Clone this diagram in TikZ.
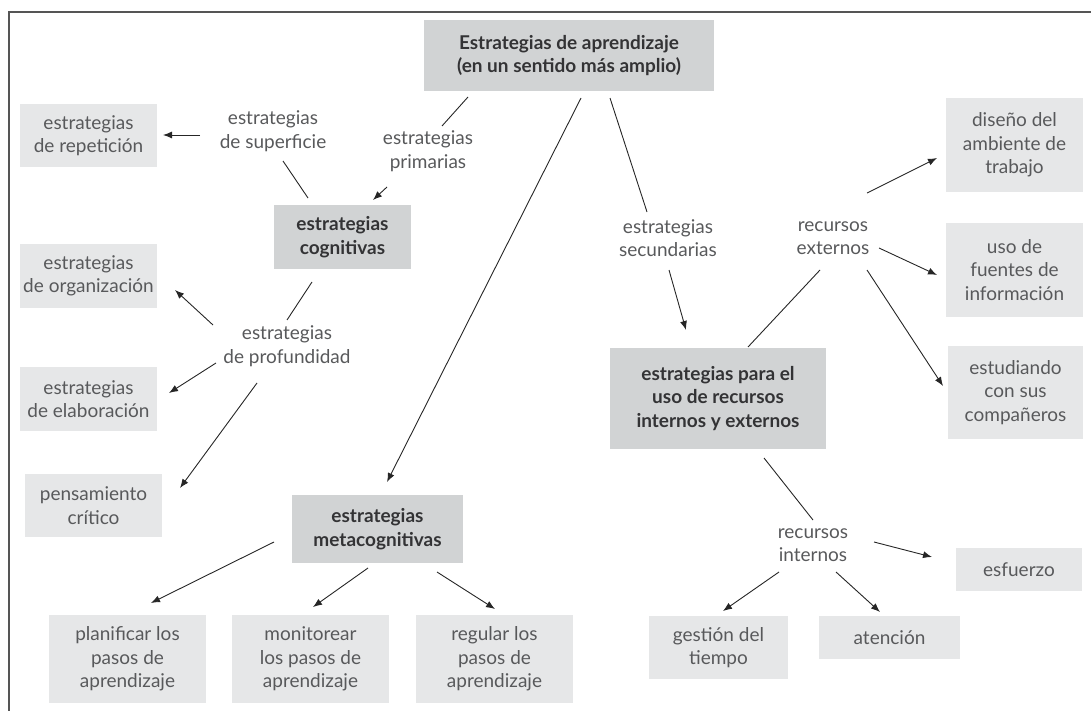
\documentclass[tikz,border=0pt]{standalone}
\usepackage{fontspec}
\setmainfont{Lato}
\usetikzlibrary{arrows.meta}
\definecolor{boxlight}{HTML}{E6E7E8}
\definecolor{boxdark}{HTML}{D1D3D4}
\definecolor{txtgray}{HTML}{58595B}
\definecolor{txtdark}{HTML}{333335}
\definecolor{frame}{HTML}{555555}

\begin{document}
\begin{tikzpicture}[x=1pt,y=-1pt]
\useasboundingbox (0,0) rectangle (1091,711);
\tikzset{
  hoja/.style={
           fill=boxlight,
           text=txtgray,
           inner sep=0pt,
           align=center,
           font=\fontsize{19}{23.5}\selectfont,
           },
  tema/.style={
           hoja,
           fill=boxdark,
           text=txtdark,
           font=\fontsize{19}{23.5}\selectfont\bfseries,
           },
  rotulo/.style={
           text=txtgray,
           inner sep=0pt,
           align=center,
           font=\fontsize{19}{23.5}\selectfont,
           },
  linea/.style={line width=0.9pt, draw=black!85},
  flecha/.style={linea, -{Latex[length=9pt,width=7pt]}},
}
% marco
\draw[frame, line width=1.3pt] (1091,12) -- (9,12) -- (9,711);
%==========================================
% cajas
\node[tema, minimum width=290, minimum height=71] (top) at (569,55.5)
  {Estrategias de aprendizaje\\(en un sentido más amplio)};
\node[tema, minimum width=137, minimum height=64] (cog) at (342.5,237) {estrategias\\cognitivas};
\node[tema, minimum width=171, minimum height=68] (meta) at (377.5,529) {estrategias\\metacognitivas};
\node[tema, minimum width=216, minimum height=101] (rec) at (718,398.5)
  {estrategias para el\\uso de recursos\\internos y externos};
\node[hoja, minimum width=137, minimum height=63] (rep) at (88.5,135.5) {estrategias\\de repetición};
\node[hoja, minimum width=137, minimum height=64] (org) at (88.5,276) {estrategias\\de organización};
\node[hoja, minimum width=137, minimum height=64] (ela) at (88.5,399) {estrategias\\de elaboración};
\node[hoja, minimum width=137, minimum height=63] (pen) at (93.5,505.5) {pensamiento\\crítico};
\node[hoja, minimum width=157, minimum height=88] (pla) at (127.5,659) {planificar los\\pasos de\\aprendizaje};
\node[hoja, minimum width=157, minimum height=88] (mon) at (310.5,659) {monitorear\\los pasos de\\aprendizaje};
\node[hoja, minimum width=157, minimum height=88] (reg) at (494.5,659) {regular los\\pasos de\\aprendizaje};
\node[hoja, minimum width=137, minimum height=94] (dis) at (1014.5,145) {diseño del\\ambiente de\\trabajo};
\node[hoja, minimum width=137, minimum height=94] (fue) at (1014.5,270) {uso de\\fuentes de\\información};
\node[hoja, minimum width=135, minimum height=93] (est) at (1015.5,392.5) {estudiando\\con sus\\compañeros};
\node[hoja, minimum width=126, minimum height=43] (esf) at (1019,569.5) {esfuerzo};
\node[hoja, minimum width=139, minimum height=63] (ges) at (718.5,647.5) {gestión del\\tiempo};
\node[hoja, minimum width=141, minimum height=43] (ate) at (889.5,637.5) {atención};
% rotulos
\node[rotulo] (sup) at (273,131) {estrategias\\de superficie};
\node[rotulo] (pri) at (428,151) {estrategias\\primarias};
\node[rotulo] (pro) at (287,346) {estrategias\\de profundidad};
\node[rotulo] (sec) at (668,238) {estrategias\\secundarias};
\node[rotulo] (ext) at (833,238) {recursos\\externos};
\node[rotulo] (int) at (813,545) {recursos\\internos};
%==========================================
% puntos de las lineas
\coordinate (top-pri) at (468,97);   \coordinate (pri-top) at (442,126);
\coordinate (pri-cog) at (387,187);  \coordinate (cog-pri) at (373,200);
\coordinate (sup-rep) at (200,135);  \coordinate (rep-sup) at (163,135);
\coordinate (sup-cog) at (283,161);  \coordinate (cog-sup) at (308,198);
\coordinate (cog-pro) at (312,282);  \coordinate (pro-cog) at (287,320);
\coordinate (pro-org) at (213,325);  \coordinate (org-pro) at (175,290);
\coordinate (pro-ela) at (216,363);  \coordinate (ela-pro) at (169,393);
\coordinate (pro-pen) at (257,383);  \coordinate (pen-pro) at (180,488);
\coordinate (top-meta) at (581,98);  \coordinate (meta-top) at (387,482);
\coordinate (top-sec) at (610,98);   \coordinate (sec-top) at (647,212);
\coordinate (sec-rec) at (669,270);  \coordinate (rec-sec) at (686,330);
\coordinate (rec-ext) at (748,347);  \coordinate (ext-rec) at (820,270);
\coordinate (ext-dis) at (867,193);  \coordinate (dis-ext) at (937,158);
\coordinate (ext-fue) at (879,248);  \coordinate (fue-ext) at (937,275);
\coordinate (ext-est) at (867,270);  \coordinate (est-ext) at (943,386);
\coordinate (rec-int) at (764,458);  \coordinate (int-rec) at (813,520);
\coordinate (int-esf) at (874,542);  \coordinate (esf-int) at (932,557);
\coordinate (int-ges) at (779,572);  \coordinate (ges-int) at (723,611);
\coordinate (int-ate) at (836,572);  \coordinate (ate-int) at (880,612);
\coordinate (meta-pla) at (274,542); \coordinate (pla-meta) at (151,603);
\coordinate (meta-mon) at (368,568); \coordinate (mon-meta) at (313,607);
\coordinate (meta-reg) at (437,572); \coordinate (reg-meta) at (495,609);
% lineas
\draw[linea] (top-pri) -- (pri-top);
\draw[linea] (sup-cog) -- (cog-sup);
\draw[linea] (cog-pro) -- (pro-cog);
\draw[linea] (top-sec) -- (sec-top);
\draw[linea] (rec-ext) -- (ext-rec);
\draw[linea] (rec-int) -- (int-rec);
% flechas
\draw[flecha] (pri-cog) -- (cog-pri);
\draw[flecha] (sup-rep) -- (rep-sup);
\draw[flecha] (pro-org) -- (org-pro);
\draw[flecha] (pro-ela) -- (ela-pro);
\draw[flecha] (pro-pen) -- (pen-pro);
\draw[flecha] (top-meta) -- (meta-top);
\draw[flecha] (sec-rec) -- (rec-sec);
\draw[flecha] (ext-dis) -- (dis-ext);
\draw[flecha] (ext-fue) -- (fue-ext);
\draw[flecha] (ext-est) -- (est-ext);
\draw[flecha] (int-esf) -- (esf-int);
\draw[flecha] (int-ges) -- (ges-int);
\draw[flecha] (int-ate) -- (ate-int);
\draw[flecha] (meta-pla) -- (pla-meta);
\draw[flecha] (meta-mon) -- (mon-meta);
\draw[flecha] (meta-reg) -- (reg-meta);
\end{tikzpicture}
\end{document}
